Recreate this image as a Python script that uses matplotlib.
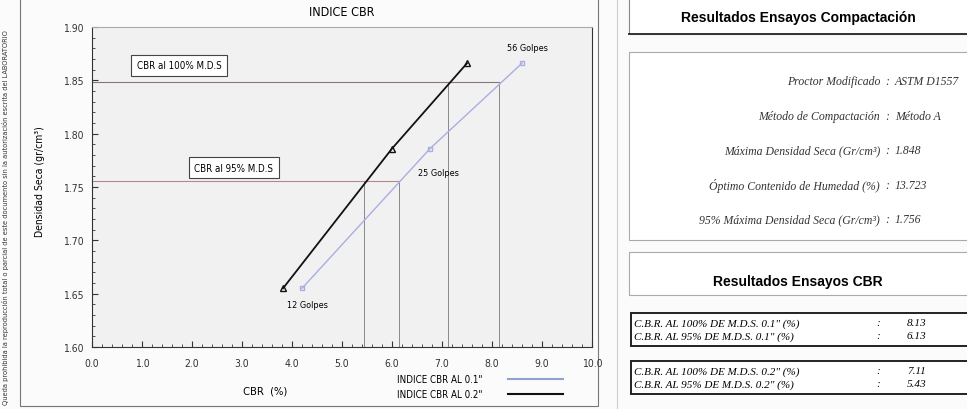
import numpy as np
import matplotlib.pyplot as plt
from matplotlib.patches import Rectangle
from matplotlib.lines import Line2D
from matplotlib.ticker import MultipleLocator, FormatStrFormatter

# ---- data ----
golpes = ['12 Golpes', '25 Golpes', '56 Golpes']
densidad = [1.655, 1.786, 1.866]
cbr_01 = [4.20, 6.76, 8.60]      # INDICE CBR AL 0.1"
cbr_02 = [3.82, 6.00, 7.50]      # INDICE CBR AL 0.2"

mds_100 = 1.848
mds_95 = 1.756
cbr_100_01, cbr_95_01 = 8.13, 6.13
cbr_100_02, cbr_95_02 = 7.11, 5.43

compact_labels = ['Proctor Modificado', 'Método de Compactación',
                  'Máxima Densidad Seca (Gr/cm³)', 'Óptimo Contenido de Humedad (%)',
                  '95% Máxima Densidad Seca (Gr/cm³)']
compact_values = ['ASTM D1557', 'Método A', '1.848', '13.723', '1.756']

cbr_labels = ['C.B.R. AL 100% DE M.D.S. 0.1" (%)', 'C.B.R. AL 95% DE M.D.S. 0.1" (%)',
              'C.B.R. AL 100% DE M.D.S. 0.2" (%)', 'C.B.R. AL 95% DE M.D.S. 0.2" (%)']
cbr_values = [cbr_100_01, cbr_95_01, cbr_100_02, cbr_95_02]

narrow = dict(family='DejaVu Sans', stretch='condensed')
serif = ['Liberation Serif', 'DejaVu Serif']
blue = '#a8aee4'
black = '#111111'

fig = plt.figure(figsize=(9.67, 4.10), dpi=100)
fig.patch.set_facecolor('#fbfbfb')

# background axes in pixel coordinates for frames and side panels
bg = fig.add_axes([0, 0, 1, 1])
bg.set_xlim(0, 967)
bg.set_ylim(410, 0)
bg.axis('off')

bg.add_patch(Rectangle((20, -2), 578, 409, fill=False, ec='#777777', lw=0.8))
bg.plot([617, 617], [0, 410], color='#cccccc', lw=0.8)

# left margin note (rotated)
bg.text(6, 218, 'Queda prohibida la reproducción total o parcial de este documento sin la autorización escrita del LABORATORIO',
        rotation=90, ha='center', va='center', fontsize=5.3, color='#333333', **narrow)

# ---- chart ----
ax = fig.add_axes([92 / 967, 1 - 348 / 410, 500 / 967, 320 / 410])
ax.set_facecolor('#f1f1f1')
ax.set_xlim(0, 10)
ax.set_ylim(1.60, 1.90)

# reference lines at 100% and 95% of the max dry density
ax.plot([0, cbr_100_01], [mds_100, mds_100], color='#8a7676', lw=0.8)
ax.plot([0, cbr_95_01], [mds_95, mds_95], color='#b08a8a', lw=0.8)
for xv, yv in [(cbr_100_01, mds_100), (cbr_100_02, mds_100), (cbr_95_01, mds_95), (cbr_95_02, mds_95)]:
    ax.plot([xv, xv], [1.60, yv], color='#888888', lw=0.7)

ax.plot(cbr_01, densidad, color=blue, lw=1.0, marker='s', ms=3.5, mfc='none', mec=blue)
ax.plot(cbr_02, densidad, color=black, lw=1.3, marker='^', ms=5, mfc='none', mec=black, mew=1.0)

offsets = [(4, -12), (6, -17), (4, 11)]
for lab, xv, yv, off in zip(golpes, cbr_01, densidad, offsets):
    ax.annotate(lab, (xv, yv), xytext=off, textcoords='offset points',
                ha='center', va='center', fontsize=6.5, **narrow)

box = dict(boxstyle='square,pad=0.55', fc='white', ec='#444444', lw=0.8)
ax.text(1.74, 1.864, 'CBR al 100% M.D.S', ha='center', va='center', fontsize=7, bbox=box, **narrow)
ax.text(2.84, 1.768, 'CBR al 95% M.D.S', ha='center', va='center', fontsize=7, bbox=box, **narrow)

ax.xaxis.set_major_locator(MultipleLocator(1.0))
ax.xaxis.set_minor_locator(MultipleLocator(0.2))
ax.yaxis.set_major_locator(MultipleLocator(0.05))
ax.yaxis.set_minor_locator(MultipleLocator(0.01))
ax.xaxis.set_major_formatter(FormatStrFormatter('%.1f'))
ax.yaxis.set_major_formatter(FormatStrFormatter('%.2f'))
ax.tick_params(which='both', direction='in', labelsize=7.5, colors='#333333')
ax.tick_params(which='major', length=4)
ax.tick_params(which='minor', length=2)
for lbl in ax.get_xticklabels() + ax.get_yticklabels():
    lbl.set_family('DejaVu Sans')
    lbl.set_stretch('condensed')
ax.tick_params(axis='x', pad=8)
ax.tick_params(axis='y', pad=6)
ax.spines['top'].set_color('#aaaaaa')
for s in ['left', 'bottom', 'right']:
    ax.spines[s].set_color('#333333')

fig.text(342 / 967, 1 - 12 / 410, 'INDICE CBR', ha='center', va='center', fontsize=9, **narrow)
fig.text(40 / 967, 1 - 182 / 410, 'Densidad Seca (gr/cm³)', rotation=90, ha='center', va='center',
         fontsize=7.5, **narrow)
fig.text(265 / 967, 1 - 392 / 410, 'CBR  (%)', ha='center', va='center', fontsize=8, **narrow)

# legend drawn by hand like the report
bg.text(440, 380, 'INDICE CBR AL 0.1"', ha='center', va='center', fontsize=7, **narrow)
bg.text(440, 395, 'INDICE CBR AL 0.2"', ha='center', va='center', fontsize=7, **narrow)
bg.add_line(Line2D([508, 563], [380, 380], color='#8fa3cf', lw=1.5))
bg.add_line(Line2D([508, 563], [395, 395], color=black, lw=1.5))

# ---- right side panels ----
bg.add_patch(Rectangle((629, -3), 345, 38, fc='white', ec='#888888', lw=0.8))
bg.plot([629, 967], [35, 35], color='#333333', lw=1.4)
bg.text(798, 18, 'Resultados Ensayos Compactación', ha='center', va='center',
        fontsize=10, fontweight='heavy', family=['Liberation Sans', 'DejaVu Sans'])

bg.add_patch(Rectangle((629, 53), 345, 188, fc='white', ec='#aaaaaa', lw=0.8))
rows_y = [82, 117, 151, 186, 220]
for lab, val, yy in zip(compact_labels, compact_values, rows_y):
    bg.text(880, yy, lab, ha='right', va='center', fontsize=8.5, style='italic', family=serif, color='#333333')
    bg.text(887, yy, ':', ha='center', va='center', fontsize=8.5, style='italic', family=serif, color='#333333')
    bg.text(895, yy, val, ha='left', va='center', fontsize=8.5, style='italic', family=serif, color='#333333')

bg.add_patch(Rectangle((629, 253), 345, 43, fc='white', ec='#aaaaaa', lw=0.8))
bg.text(798, 282, 'Resultados Ensayos CBR', ha='center', va='center',
        fontsize=10, fontweight='heavy', family=['Liberation Sans', 'DejaVu Sans'])

table_tops = [314, 362]
for t, top in enumerate(table_tops):
    bg.add_patch(Rectangle((631, top), 345, 33, fc='white', ec='#222222', lw=1.4))
    for r in range(2):
        i = t * 2 + r
        yy = top + 10 + r * 13
        bg.text(634, yy, cbr_labels[i], ha='left', va='center', fontsize=8, style='italic', family=serif)
        bg.text(878, yy, ':', ha='center', va='center', fontsize=8, style='italic', family=serif)
        bg.text(926, yy, '%.2f' % cbr_values[i], ha='right', va='center', fontsize=8, style='italic', family=serif)

fig.savefig('out.png', dpi=100, facecolor=fig.get_facecolor())
